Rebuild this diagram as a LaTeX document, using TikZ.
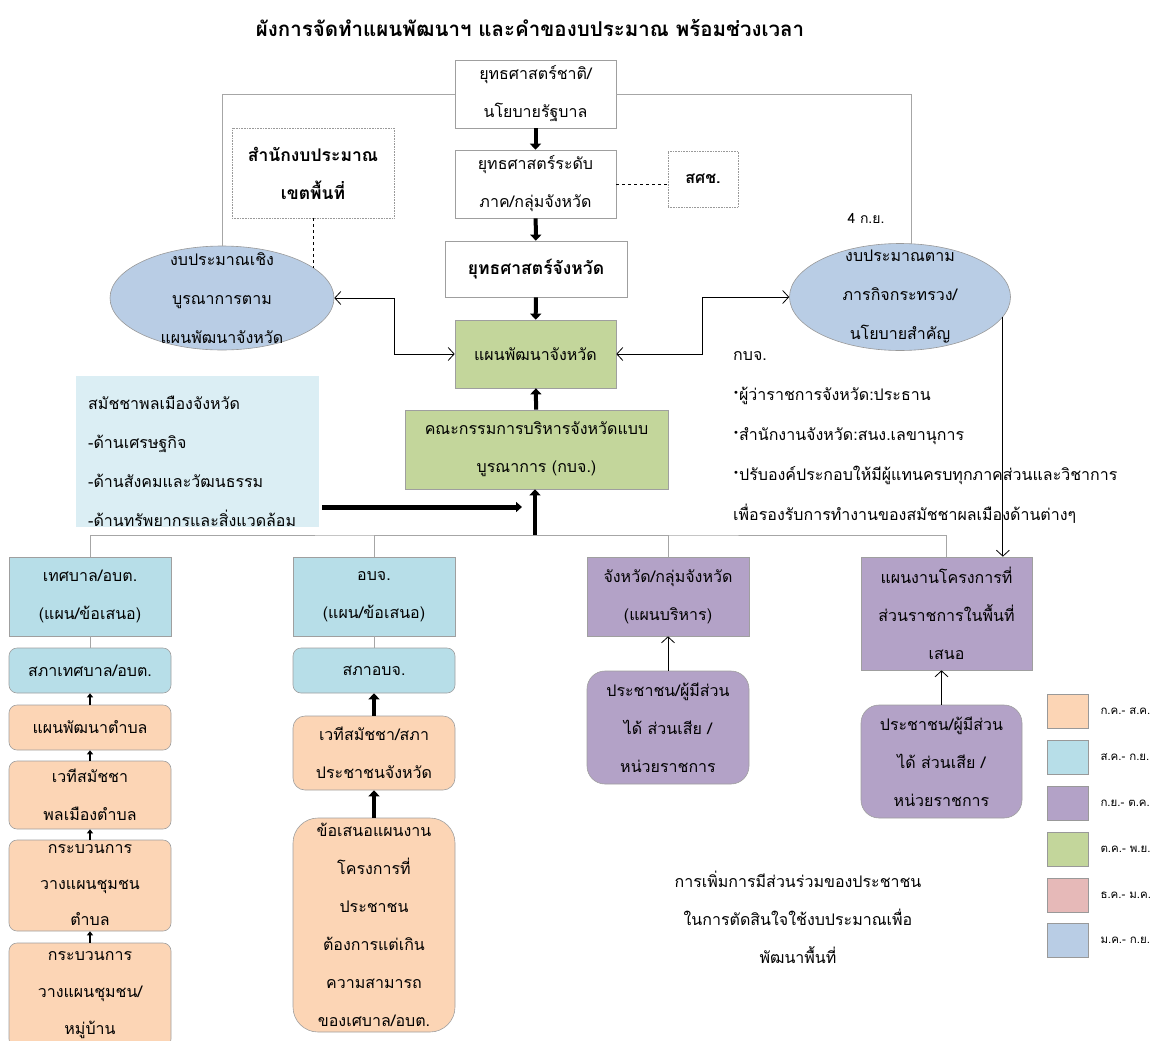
\documentclass[tikz,border=0pt]{standalone}
\usepackage{fontspec}
\setmainfont[Script=Thai]{Loma}
\newfontfamily\symfont{DejaVu Sans}
\usetikzlibrary{calc,arrows.meta,shapes.geometric}
\definecolor{peach}{HTML}{FCD5B5}
\definecolor{sky}{HTML}{B7DEE8}
\definecolor{lilac}{HTML}{B3A2C7}
\definecolor{leaf}{HTML}{C3D69B}
\definecolor{rose}{HTML}{E6B9B8}
\definecolor{steel}{HTML}{B9CDE5}
\definecolor{pale}{HTML}{DBEEF4}
\def\bul{\raisebox{4pt}{\symfont\fontsize{10}{10}\selectfont\char"2022}}
\tikzset{
	box/.style={draw=gray!75, line width=0.6pt, align=center, inner sep=0pt, font=\fontsize{16}{38}\selectfont},
	rbox/.style={box, rounded corners=8pt},
	dotbox/.style={box, draw=gray!80, densely dotted, font=\bfseries\fontsize{17.5}{38}\selectfont},
	budget/.style={ellipse, draw=gray!80, line width=0.6pt, fill=steel, inner sep=0pt},
	txt/.style={align=center, inner sep=0pt, font=\fontsize{16}{39}\selectfont},
	fatarrow/.style={line width=4pt, -{Triangle[length=6pt,width=11pt]}},
	smallarrow/.style={line width=2pt, -{Triangle[length=4pt,width=6pt]}},
	openarrow/.style={line width=0.8pt, -{Straight Barb[length=6pt,width=13pt]}},
	link/.style={draw=gray!70, line width=0.6pt},
	swatch/.style={draw=gray!80, line width=0.6pt, minimum width=41, minimum height=34, inner sep=0pt},
	legtext/.style={anchor=west, inner sep=0pt, font=\fontsize{11.5}{13}\selectfont}
}

\begin{document}
\begin{tikzpicture}[x=1pt,y=-1pt]
			%%%%% START %%%%%
			\useasboundingbox (0,0) rectangle (1175,1041);
			
			\node[font=\bfseries\fontsize{20.5}{24}\selectfont] (title) at (530,28) {ผังการจัดทำแผนพัฒนาฯ และคำของบประมาณ พร้อมช่วงเวลา};
			
			\node[box, minimum width=161, minimum height=68] (natl) at (535.5,94) {ยุทธศาสตร์ชาติ/\\นโยบายรัฐบาล};
			\node[box, minimum width=161, minimum height=68] (regn) at (535.5,184) {ยุทธศาสตร์ระดับ\\ภาค/กลุ่มจังหวัด};
			\node[dotbox, minimum width=70, minimum height=56, font=\bfseries\fontsize{16}{38}\selectfont] (nesdc) at (703,179) {สศช.};
			\node[box, minimum width=182, minimum height=56, font=\bfseries\fontsize{17.5}{38}\selectfont] (provstr) at (536,269) {ยุทธศาสตร์จังหวัด};
			\node[box, fill=leaf, minimum width=161, minimum height=68] (provplan) at (535.5,354) {แผนพัฒนาจังหวัด};
			\node[box, fill=leaf, minimum width=263, minimum height=79] (cmte) at (536.5,449.5) {คณะกรรมการบริหารจังหวัดแบบ\\บูรณาการ (กบจ.)};
			\node[dotbox, minimum width=162, minimum height=90] (bbo) at (313,173) {สำนักงบประมาณ\\เขตพื้นที่};
			
			\node[budget, minimum width=224, minimum height=104] (budl) at (222,298) {};
			\node[txt] at (budl) {งบประมาณเชิง\\บูรณาการตาม\\แผนพัฒนาจังหวัด};
			\node[budget, minimum width=221, minimum height=107] (budr) at (900,297) {};
			\node[txt] at (budr) {งบประมาณตาม\\ภารกิจกระทรวง/\\นโยบายสำคัญ};
			\node[txt, font=\fontsize{14}{16}\selectfont] (sept) at (866,218) {4 ก.ย.};
			
			% top links
			\draw[link] (natl.west) -| (budl.north);
			\draw[link] (natl.east) -| ($(budr.north)+(11,1)$);
			\draw[fatarrow] (natl) -- (regn);
			\draw[fatarrow] (regn) -- (provstr);
			\draw[fatarrow] (provstr) -- (provplan);
			\draw[fatarrow] (cmte) -- (provplan);
			\draw[dashed, line width=0.6pt] (regn.east) -- (nesdc.west |- regn.east);
			\draw[dashed, line width=0.6pt] (bbo.south) -- (bbo.south |- budl.18);
			\coordinate (lmid) at ($(budl.east)!.5!(provplan.west)$);
			\coordinate (rmid) at ($(provplan.east)!.5!(budr.west)$);
			\draw[openarrow, {Straight Barb[length=6pt,width=13pt]}-{Straight Barb[length=6pt,width=13pt]}] (budl.east) -| (lmid) |- (provplan.west);
			\draw[openarrow, {Straight Barb[length=6pt,width=13pt]}-{Straight Barb[length=6pt,width=13pt]}] (provplan.east) -| (rmid) |- (budr.west);
			
			% assembly panel
			\node[fill=pale, minimum width=243, minimum height=151, inner sep=0pt, anchor=north west] (panel) at (76,376) {};
			\node[anchor=north west, align=left, inner sep=0pt, font=\fontsize{16}{39}\selectfont] (paneltxt) at (88,396) {สมัชชาพลเมืองจังหวัด\\-ด้านเศรษฐกิจ\\-ด้านสังคมและวัฒนธรรม\\-ด้านทรัพยากรและสิ่งแวดล้อม};
			\coordinate (feed) at (522,507);
			\coordinate (bus) at (535,535);
			\draw[line width=5pt, -{Triangle[length=6pt,width=10pt]}] ($(panel.east |- feed)+(3,0)$) -- (feed);
			\draw[fatarrow] (bus) -- (bus |- cmte.south);
			
			% kbj notes
			\node[anchor=north west, align=left, inner sep=0pt, font=\fontsize{16}{40}\selectfont] (kbj) at (733,351) {กบจ.\\\bul ผู้ว่าราชการจังหวัด:ประธาน\\\bul สำนักงานจังหวัด:สนง.เลขานุการ\\\bul ปรับองค์ประกอบให้มีผู้แทนครบทุกภาคส่วนและวิชาการ\\เพื่อรองรับการทำงานของสมัชชาผลเมืองด้านต่างๆ};
			
			% bottom row
			\node[box, fill=sky, minimum width=162, minimum height=79] (tes) at (90,596.5) {เทศบาล/อบต.\\(แผน/ข้อเสนอ)};
			\node[rbox, fill=sky, minimum width=162, minimum height=45] (tessapa) at (90,670.5) {สภาเทศบาล/อบต.};
			\node[rbox, fill=peach, minimum width=162, minimum height=45] (tesplan) at (90,727.5) {แผนพัฒนาตำบล};
			\node[rbox, fill=peach, minimum width=162, minimum height=68] (tesforum) at (90,795) {เวทีสมัชชา\\พลเมืองตำบล};
			\node[rbox, fill=peach, minimum width=162, minimum height=91, font=\fontsize{16}{36}\selectfont] (tesproc) at (90,885.5) {กระบวนการ\\วางแผนชุมชน\\ตำบล};
			\node[rbox, fill=peach, minimum width=162, minimum height=104, font=\fontsize{16}{37}\selectfont] (vilproc) at (90,995) {กระบวนการ\\วางแผนชุมชน/\\หมู่บ้าน};
			
			\node[box, fill=sky, minimum width=162, minimum height=79] (obj) at (374,596.5) {อบจ.\\(แผน/ข้อเสนอ)};
			\node[rbox, fill=sky, minimum width=162, minimum height=45] (objsapa) at (374,670.5) {สภาอบจ.};
			\node[rbox, fill=peach, minimum width=162, minimum height=74, rounded corners=12pt] (objforum) at (374,753) {เวทีสมัชชา/สภา\\ประชาชนจังหวัด};
			\node[rbox, fill=peach, minimum width=162, minimum height=214, rounded corners=25pt] (objprop) at (374,925) {ข้อเสนอแผนงาน\\โครงการที่\\ประชาชน\\ต้องการแต่เกิน\\ความสามารถ\\ของเศบาล/อบต.};
			
			\node[box, fill=lilac, minimum width=162, minimum height=79] (prov) at (668,596.5) {จังหวัด/กลุ่มจังหวัด\\(แผนบริหาร)};
			\node[rbox, fill=lilac, minimum width=162, minimum height=113, rounded corners=18pt] (provppl) at (668,727.5) {ประชาชน/ผู้มีส่วน\\ได้ ส่วนเสีย /\\หน่วยราชการ};
			
			\node[box, fill=lilac, minimum width=171, minimum height=113] (dept) at (946.5,613.5) {แผนงานโครงการที่\\ส่วนราชการในพื้นที่\\เสนอ};
			\node[rbox, fill=lilac, minimum width=161, minimum height=113, rounded corners=18pt] (deptppl) at (941.5,761.5) {ประชาชน/ผู้มีส่วน\\ได้ ส่วนเสีย /\\หน่วยราชการ};
			
			% bus
			\draw[link] (tes.north) |- (bus) -| (dept.north);
			\draw[link] (obj.north) |- (bus);
			\draw[link] (prov.north) |- (bus);
			\draw[link] (tes) -- (tessapa);
			\draw[link] (obj) -- (objsapa);
			\draw[openarrow] (budr.-11) -- (budr.-11 |- dept.north);
			
			\draw[smallarrow] (tesplan) -- (tessapa);
			\draw[smallarrow] (tesforum) -- (tesplan);
			\draw[smallarrow] (tesproc) -- (tesforum);
			\draw[smallarrow] (vilproc) -- (tesproc);
			\draw[fatarrow] (objforum) -- (objsapa);
			\draw[fatarrow] (objprop) -- (objforum);
			\draw[openarrow] (provppl) -- (prov);
			\draw[openarrow] (deptppl.north) -- (deptppl.north |- dept.south);
			
			\node[txt, font=\fontsize{16}{38}\selectfont] (note) at (798,917) {การเพิ่มการมีส่วนร่วมของประชาชน\\ในการตัดสินใจใช้งบประมาณเพื่อ\\พัฒนาพื้นที่};
			
			% legend
			\node[swatch, fill=peach] (sw1) at (1067.5,711) {};
			\node[swatch, fill=sky] (sw2) at (1067.5,757) {};
			\node[swatch, fill=lilac] (sw3) at (1067.5,803) {};
			\node[swatch, fill=leaf] (sw4) at (1067.5,849) {};
			\node[swatch, fill=rose] (sw5) at (1067.5,895) {};
			\node[swatch, fill=steel] (sw6) at (1067.5,940) {};
			\node[legtext] at ($(sw1.east)+(12,0)$) {ก.ค.- ส.ค.};
			\node[legtext] at ($(sw2.east)+(12,0)$) {ส.ค.- ก.ย.};
			\node[legtext] at ($(sw3.east)+(12,0)$) {ก.ย.- ต.ค.};
			\node[legtext] at ($(sw4.east)+(12,0)$) {ต.ค.- พ.ย.};
			\node[legtext] at ($(sw5.east)+(12,0)$) {ธ.ค.- ม.ค.};
			\node[legtext] at ($(sw6.east)+(12,0)$) {ม.ค.- ก.ย.};
			
			%%%%% END %%%%%
\end{tikzpicture}
\end{document}
